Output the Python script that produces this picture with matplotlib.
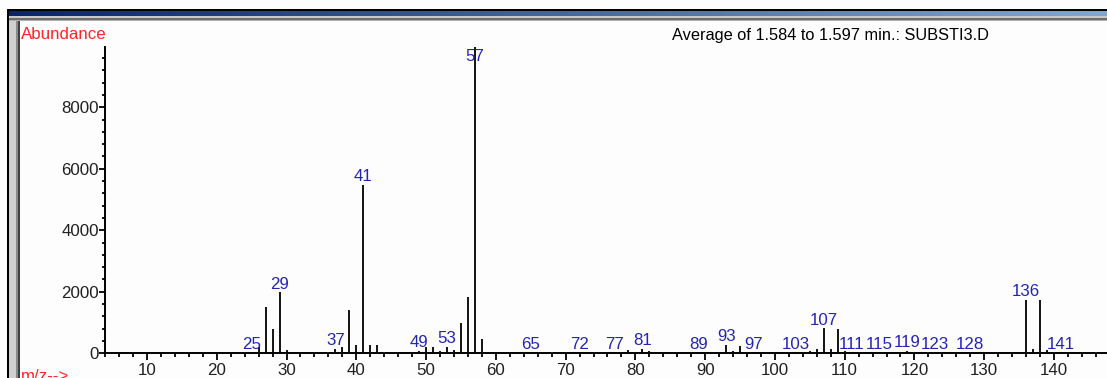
#!/usr/bin/env python3

import matplotlib
matplotlib.use("Agg")
import matplotlib.pyplot as plt
from matplotlib.patches import Rectangle
from matplotlib.ticker import MultipleLocator
import numpy as np

# averaged mass spectrum, m/z vs abundance
mz = [25, 26, 27, 28, 29, 30, 37, 38, 39, 40, 41, 42, 43,
      49, 50, 51, 52, 53, 54, 55, 56, 57, 58,
      65, 72, 77, 79, 81, 82, 89, 93, 94, 95, 97,
      103, 105, 106, 107, 108, 109, 110, 111, 115, 119, 123, 128,
      136, 137, 138, 139, 141]
abund = [30, 200, 1520, 800, 1980, 100, 150, 210, 1420, 260, 5480, 260, 260,
         80, 200, 200, 60, 200, 100, 1000, 1820, 9950, 455,
         30, 30, 30, 100, 150, 70, 30, 270, 70, 250, 30,
         30, 80, 130, 810, 150, 780, 80, 30, 30, 80, 30, 30,
         1730, 130, 1730, 100, 30]
peak_labels = [25, 29, 37, 41, 49, 53, 57, 65, 72, 77, 81, 89, 93, 97,
               103, 107, 111, 115, 119, 123, 128, 136, 141]

title = "Average of 1.584 to 1.597 min.: SUBSTI3.D"
ymax = 9970

fam = ["Liberation Sans", "DejaVu Sans"]
plt.rcParams["font.family"] = fam
fs = 12.2
blue = "#2424b4"
red = "#ff2424"

W, H = 1107, 378
fig = plt.figure(figsize=(W / 100, H / 100), dpi=100)
fig.patch.set_facecolor("#fdfdfd")

#- window chrome (pixel coords, origin bottom-left)
def rect(x, y, w, h, c, z=-1):
    fig.patches.append(Rectangle((x, H - y - h), w, h, transform=None,
                                 facecolor=c, edgecolor="none", zorder=z))

rect(7, 9, W - 7, 2, "#000000")
rect(7, 16, W - 7, 1.5, "#c8c8c8")
rect(7, 17.5, W - 7, 2.5, "#6e6e6e")
rect(7, 20, W - 7, 1, "#b0b0b0")
rect(7, 9, 1.5, H - 9, "#000000")
rect(8.5, 21, 7.5, H - 21, "#cfcfcf")
rect(16, 21, 2, H - 21, "#8a8a8a")
rect(18, 21, 1.5, H - 21, "#404040")
# title bar gradient, drawn as thin strips
c0 = np.array([10, 36, 106]) / 255
c1 = np.array([130, 165, 215]) / 255
nseg = 120
xs = np.linspace(8.5, W, nseg + 1)
for i in range(nseg):
    t = i / (nseg - 1)
    rect(xs[i], 11, xs[i + 1] - xs[i] + 0.6, 5, tuple(c0 * (1 - t) + c1 * t), z=0)

#- axes
ax = fig.add_axes([105 / W, (H - 353.3) / H, 1 - 105 / W, (353.3 - 46.7) / H])
ax.set_facecolor("none")
ax.vlines(mz, 0, abund, color="black", lw=1.3)
ax.set_xlim(3.98, 147.6)
ax.set_ylim(0, ymax)

for m in peak_labels:
    v = abund[mz.index(m)]
    if v > 0.9 * ymax:
        ax.annotate(str(m), (m, ymax), xytext=(0, -1.5), textcoords="offset points",
                    ha="center", va="top", color=blue, fontsize=fs)
    else:
        ax.annotate(str(m), (m, v), xytext=(0, 0.5), textcoords="offset points",
                    ha="center", va="bottom", color=blue, fontsize=fs)

ax.spines["top"].set_visible(False)
ax.spines["right"].set_visible(False)
for s in ["left", "bottom"]:
    ax.spines[s].set_linewidth(1.4)
    ax.spines[s].set_color("black")

ax.xaxis.set_minor_locator(MultipleLocator(2))
ax.yaxis.set_minor_locator(MultipleLocator(400))
ax.set_yticks([0, 2000, 4000, 6000, 8000])
ax.set_xticks(np.arange(10, 141, 10))
ax.tick_params(axis="x", which="major", length=5, width=1.3, pad=2, labelsize=fs, direction="out")
ax.tick_params(axis="x", which="minor", length=3, width=1.3, direction="out")
ax.tick_params(axis="y", which="major", length=4, width=1.3, pad=0.5, labelsize=fs, direction="out")
ax.tick_params(axis="y", which="minor", length=2, width=1.3, direction="out")
for lab in ax.get_yticklabels() + ax.get_xticklabels():
    lab.set_color("#202020")

#- texts
fig.text(20.5 / W, (H - 39.3) / H, "Abundance", color=red, fontsize=fs,
         va="baseline", ha="left")
fig.text(671.7 / W, (H - 40) / H, title, color="black", fontsize=11.8,
         va="baseline", ha="left")
fig.text(20.5 / W, (H - 369) / H, "m/z-->", color=red, fontsize=fs,
         va="top", ha="left")

fig.savefig("out.png", dpi=100)
